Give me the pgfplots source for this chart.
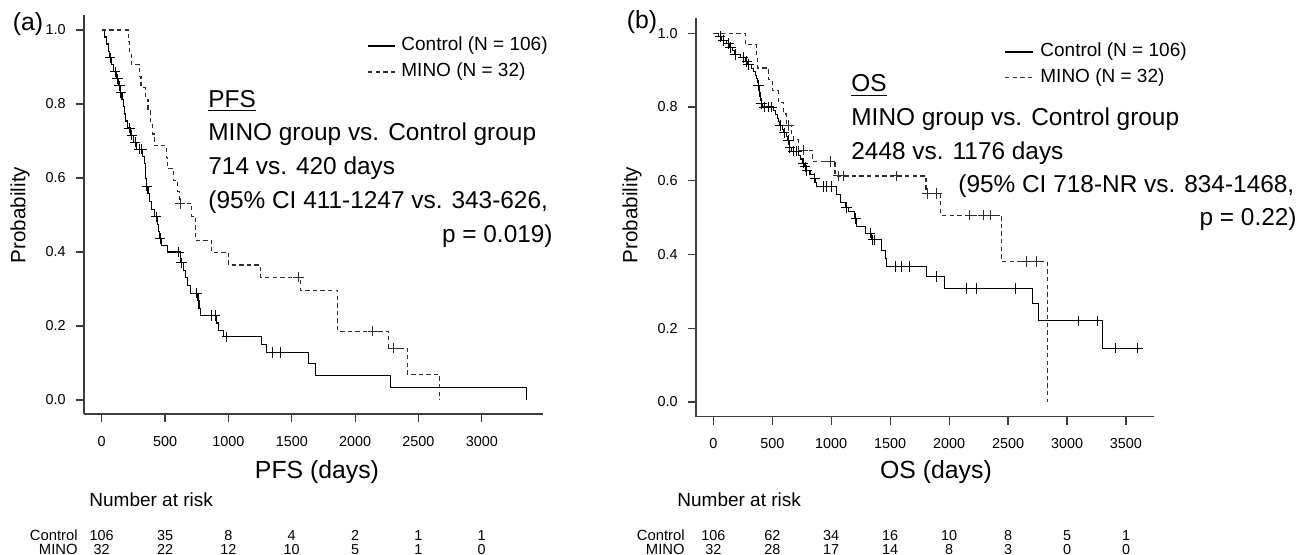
\documentclass[border=0pt]{standalone}
\usepackage{fontspec}
\setmainfont{Liberation Sans}
\usepackage{pgfplots}
\pgfplotsset{compat=1.18}
\definecolor{axgray}{RGB}{60,60,60}
\definecolor{dashgray}{RGB}{45,45,45}

\newcommand\annfont{\fontsize{12.2}{14}\selectfont}
\newcommand\legfont{\fontsize{9.5}{11}\selectfont}
\newcommand\ylabfont{\fontsize{10.3}{12}\selectfont}
\newcommand\labfont{\fontsize{12.4}{14}\selectfont}
\newcommand\riskfont{\fontsize{7.2}{8}\selectfont}
\newcommand\rowfont{\fontsize{7.4}{8}\selectfont}

\pgfplotsset{
  kmaxis/.style={
    scale only axis, clip=false, scaled ticks=false,
    axis x line*=bottom, axis y line*=left,
    axis line style={axgray,line width=0.6pt},
    tick align=outside, major tick length=4.2pt,
    tick style={axgray,line width=0.6pt},
    ytick={0,0.2,0.4,0.6,0.8,1},
    yticklabels={0.0,0.2,0.4,0.6,0.8,1.0},
    ticklabel style={font=\fontsize{7.2}{8}\selectfont},
    yticklabel style={xshift=-1.5pt},
    xticklabel style={yshift=-3.3pt}},
  ctrl/.style={const plot, black, line width=0.55pt, mark=none},
  mino/.style={const plot, dashgray, line width=0.55pt, dash pattern=on 2.2pt off 1.6pt, mark=none},
  cens/.style={only marks, mark=+, mark size=2.6pt, mark options={solid,line width=0.5pt}}
}

\begin{document}
\begin{tikzpicture}
\path[use as bounding box] (0pt,0pt) rectangle (654.5pt,-277.5pt);

% ---------- (a) PFS ----------
\begin{axis}[kmaxis, at={(42pt,-207pt)}, anchor=south west,
  width=229.5pt, height=199.5pt,
  xmin=-140, xmax=3483, ymin=-0.0378, ymax=1.0405,
  xtick={0,500,1000,1500,2000,2500,3000},
  xticklabels={0,500,1000,1500,2000,2500,3000}]
\addplot[ctrl] coordinates {
(0,1.000)(20,0.981)(40,0.962)(55,0.943)(60,0.925)(80,0.906)(95,0.887)(115,0.868)
(132,0.849)(145,0.830)(160,0.811)(170,0.792)(178,0.773)(184,0.754)(200,0.735)
(225,0.716)(250,0.697)(275,0.678)(325,0.658)(335,0.638)(342,0.618)(348,0.598)
(352,0.578)(365,0.557)(380,0.537)(395,0.516)(415,0.495)(440,0.474)(450,0.455)
(455,0.436)(470,0.418)(518,0.400)(625,0.371)(645,0.350)(660,0.330)(676,0.309)
(700,0.289)(760,0.268)(768,0.248)(776,0.228)(905,0.208)(921,0.188)(960,0.171)
(1263,0.150)(1302,0.128)(1631,0.098)(1684,0.066)(2281,0.033)(3355,0.000)};
\addplot[cens,black] coordinates {
(66,0.925)(105,0.887)(123,0.868)(139,0.849)(150,0.830)(218,0.735)(237,0.716)
(263,0.697)(297,0.678)(316,0.678)(355,0.578)(429,0.495)(460,0.436)(605,0.400)
(631,0.371)(750,0.289)(868,0.228)(894,0.228)(987,0.171)(1350,0.128)(1408,0.128)};
\addplot[mino] coordinates {
(0,1.000)(210,0.969)(220,0.938)(232,0.906)(300,0.875)(310,0.844)(342,0.813)
(365,0.781)(385,0.750)(398,0.719)(413,0.688)(508,0.656)(520,0.625)(566,0.594)
(600,0.563)(612,0.531)(710,0.497)(737,0.432)(868,0.399)(1000,0.365)(1250,0.332)
(1566,0.297)(1863,0.186)(2263,0.140)(2413,0.070)(2665,0.000)};
\addplot[cens,dashgray] coordinates {
(618,0.531)(1552,0.332)(2139,0.186)(2302,0.140)};
\end{axis}

% ---------- (b) OS ----------
\begin{axis}[kmaxis, at={(348pt,-208.35pt)}, anchor=south west,
  width=229pt, height=199.35pt,
  xmin=-147, xmax=3738, ymin=-0.0399, ymax=1.0415,
  xtick={0,500,1000,1500,2000,2500,3000,3500},
  xticklabels={0,500,1000,1500,2000,2500,3000,3500}]
\addplot[ctrl] coordinates {
(0,1.000)(40,0.991)(70,0.981)(110,0.972)(135,0.962)(165,0.953)(180,0.943)
(230,0.934)(270,0.924)(290,0.915)(320,0.905)(340,0.896)(355,0.886)(365,0.877)
(375,0.867)(380,0.858)(388,0.848)(392,0.838)(396,0.829)(400,0.819)(405,0.810)
(420,0.800)(510,0.790)(530,0.780)(545,0.770)(555,0.760)(563,0.750)(585,0.740)
(595,0.730)(620,0.720)(630,0.710)(645,0.700)(648,0.690)(660,0.680)(720,0.669)
(740,0.659)(755,0.648)(775,0.638)(790,0.628)(820,0.618)(855,0.607)(870,0.596)
(877,0.585)(1046,0.562)(1075,0.540)(1125,0.528)(1145,0.516)(1200,0.498)
(1216,0.476)(1287,0.458)(1343,0.440)(1428,0.412)(1460,0.390)(1471,0.367)
(1810,0.340)(1960,0.308)(2709,0.266)(2757,0.220)(3303,0.146)(3633,0.146)};
\addplot[cens,black] coordinates {
(57,0.991)(85,0.981)(127,0.972)(147,0.962)(184,0.943)(254,0.934)(283,0.924)
(297,0.915)(382,0.858)(410,0.810)(430,0.800)(467,0.800)(495,0.800)(566,0.750)
(600,0.730)(636,0.710)(650,0.690)(679,0.680)(707,0.680)(763,0.648)(778,0.638)
(792,0.628)(862,0.607)(933,0.585)(961,0.585)(1004,0.585)(1131,0.528)(1208,0.498)
(1329,0.458)(1352,0.440)(1363,0.440)(1541,0.367)(1598,0.367)(1668,0.367)
(1895,0.340)(2149,0.308)(2234,0.308)(2559,0.308)(3096,0.220)(3260,0.220)
(3407,0.146)(3599,0.146)};
\addplot[mino] coordinates {
(0,1.000)(269,0.969)(368,0.938)(372,0.906)(467,0.875)(500,0.844)(551,0.813)
(594,0.781)(620,0.750)(665,0.725)(679,0.711)(720,0.683)(843,0.652)(1032,0.613)
(1804,0.566)(1930,0.507)(2446,0.381)(2833,0.000)};
\addplot[cens,dashgray] coordinates {
(636,0.750)(763,0.683)(990,0.652)(1060,0.613)(1103,0.613)(1555,0.613)(1815,0.566)
(1895,0.566)(2177,0.507)(2290,0.507)(2347,0.507)(2658,0.381)(2743,0.381)};
\end{axis}

% ---------- panel letters and y labels ----------
\node[inner sep=0,font=\labfont] at (14pt,-12pt) {(a)};
\node[inner sep=0,font=\labfont] at (321pt,-11pt) {(b)};
\node[inner sep=0,font=\ylabfont,rotate=90] at (10pt,-107.5pt) {Probability};
\node[inner sep=0,font=\ylabfont,rotate=90] at (316pt,-107.5pt) {Probability};

% ---------- legends ----------
\draw[black,line width=0.55pt] (184pt,-23pt) -- (197.5pt,-23pt);
\draw[dashgray,line width=0.55pt,dash pattern=on 2.2pt off 1.6pt] (184pt,-36pt) -- (197.5pt,-36pt);
\node[anchor=west,inner sep=0,font=\legfont] at (200.5pt,-23pt) {Control (N = 106)};
\node[anchor=west,inner sep=0,font=\legfont] at (200.5pt,-36pt) {MINO (N = 32)};
\draw[black,line width=0.55pt] (502.5pt,-26pt) -- (516.5pt,-26pt);
\draw[dashgray,line width=0.55pt,dash pattern=on 2.2pt off 1.6pt] (502.5pt,-38.75pt) -- (516.5pt,-38.75pt);
\node[anchor=west,inner sep=0,font=\legfont] at (520pt,-26pt) {Control (N = 106)};
\node[anchor=west,inner sep=0,font=\legfont] at (520pt,-38.75pt) {MINO (N = 32)};

% ---------- annotations ----------
\begin{scope}[every node/.style={inner sep=0,font=\annfont}]
\node[anchor=base west] at (104pt,-53.75pt) {\underline{PFS}};
\node[anchor=base west] at (104pt,-70.5pt) {MINO group vs. Control group};
\node[anchor=base west] at (104pt,-87.5pt) {714 vs. 420 days};
\node[anchor=base west] at (104pt,-104.5pt) {(95\% CI 411-1247 vs. 343-626,};
\node[anchor=base east] at (276.5pt,-121.25pt) {p = 0.019)};
\node[anchor=base west] at (425.5pt,-46pt) {\underline{OS}};
\node[anchor=base west] at (425.5pt,-63pt) {MINO group vs. Control group};
\node[anchor=base west] at (425.5pt,-79.75pt) {2448 vs. 1176 days};
\node[anchor=base west] at (479pt,-96.25pt) {(95\% CI 718-NR vs. 834-1468,};
\node[anchor=base east] at (648.5pt,-113pt) {p = 0.22)};
\end{scope}

% ---------- x labels ----------
\node[anchor=base,inner sep=0,font=\labfont] at (158.5pt,-239pt) {PFS (days)};
\node[anchor=base,inner sep=0,font=\labfont] at (468pt,-239pt) {OS (days)};

% ---------- number at risk ----------
\node[anchor=base west,inner sep=0,font=\legfont] at (44.5pt,-253.35pt) {Number at risk};
\node[anchor=base west,inner sep=0,font=\legfont] at (338.5pt,-253.35pt) {Number at risk};
\begin{scope}[every node/.style={inner sep=0,text height=5.3pt,text depth=0pt}]
\node[anchor=base east,font=\rowfont] at (39pt,-270pt) {Control};
\node[anchor=base east,font=\rowfont] at (39pt,-277pt) {MINO};
\node[anchor=base east,font=\rowfont] at (342.5pt,-270pt) {Control};
\node[anchor=base east,font=\rowfont] at (342.5pt,-277pt) {MINO};
\foreach \v [count=\i from 0] in {106,35,8,4,2,1,1}
  \node[anchor=base,font=\riskfont] at ({50.85pt+\i*31.665pt},-270pt) {\v};
\foreach \v [count=\i from 0] in {32,22,12,10,5,1,0}
  \node[anchor=base,font=\riskfont] at ({50.85pt+\i*31.665pt},-277pt) {\v};
\foreach \v [count=\i from 0] in {106,62,34,16,10,8,5,1}
  \node[anchor=base,font=\riskfont] at ({356.65pt+\i*29.48pt},-270pt) {\v};
\foreach \v [count=\i from 0] in {32,28,17,14,8,3,0,0}
  \node[anchor=base,font=\riskfont] at ({356.65pt+\i*29.48pt},-277pt) {\v};
\end{scope}
\end{tikzpicture}
\end{document}
